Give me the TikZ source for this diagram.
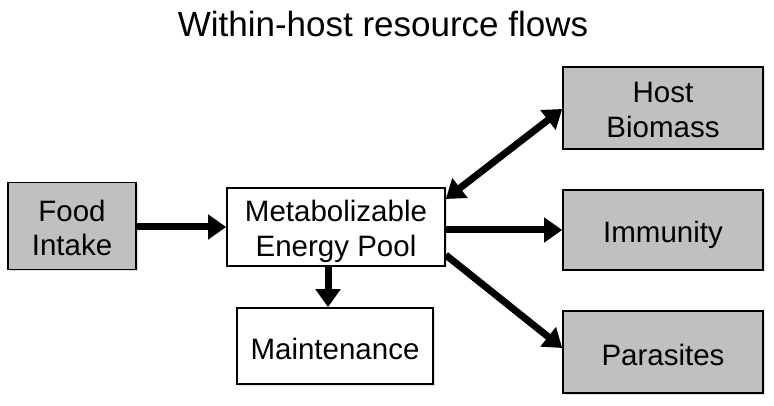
\documentclass[tikz,border=0pt]{standalone}
\usepackage{fontspec}
\setmainfont{Liberation Sans}
\usetikzlibrary{arrows.meta,shadows}
\definecolor{boxgray}{RGB}{192,192,192}
\begin{document}
\begin{tikzpicture}[x=1pt,y=1pt,
  box/.style={draw=black, line width=1.6pt, rectangle, align=center,
    font=\fontsize{29.5}{35}\selectfont, inner sep=0pt, text depth=0pt,
    drop shadow={shadow xshift=1.5pt, shadow yshift=-1.5pt, opacity=0.25}},
  oneline/.style={text height=26pt},
  twoline/.style={text height=60pt},
  graybox/.style={box, fill=boxgray},
  whitebox/.style={box, fill=white},
  flow/.style={line width=7pt, -{Triangle[length=18pt,width=24pt]}},
  flow2/.style={line width=7pt, {Triangle[length=18pt,width=24pt]}-{Triangle[length=18pt,width=24pt]}}
]
\useasboundingbox (0,0) rectangle (774,-406);
\node[anchor=base, font=\fontsize{35}{40}\selectfont] (title) at (383,-37) {Within-host resource flows};
\node[graybox, twoline, minimum width=128pt, minimum height=87pt] (food) at (72,-226) {Food\\Intake};
\node[whitebox, twoline, minimum width=218pt, minimum height=78pt] (pool) at (336,-227) {Metabolizable\\Energy Pool};
\node[whitebox, oneline, minimum width=196pt, minimum height=76pt] (maint) at (335,-346) {Maintenance};
\node[graybox, twoline, minimum width=200pt, minimum height=82pt] (host) at (663,-108) {Host\\Biomass};
\node[graybox, oneline, minimum width=200pt, minimum height=80pt] (imm) at (663,-230) {Immunity};
\node[graybox, oneline, minimum width=200pt, minimum height=82pt] (par) at (663,-352) {Parasites};
\draw[flow] (food.east |- pool.west) -- (pool.west);
\draw[flow] ([xshift=-8pt]pool.south) -- ([xshift=-8pt]pool.south |- maint.north);
\draw[flow] ([yshift=-3pt]pool.east) -- ([yshift=-3pt]pool.east -| imm.west);
\draw[flow2] ([yshift=28pt]pool.east) -- ([yshift=-1pt]host.west);
\draw[flow] ([yshift=-28pt]pool.east) -- ([yshift=4pt]par.west);
\end{tikzpicture}
\end{document}
